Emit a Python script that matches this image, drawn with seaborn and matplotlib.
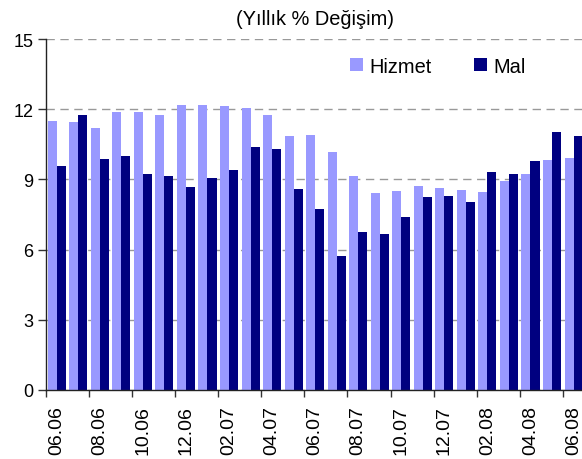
import pandas as pd
import seaborn as sns
import matplotlib.pyplot as plt

plt.rcParams['font.family'] = ['Liberation Sans', 'DejaVu Sans']

months = ['06.06', '07.06', '08.06', '09.06', '10.06', '11.06', '12.06',
          '01.07', '02.07', '03.07', '04.07', '05.07', '06.07', '07.07',
          '08.07', '09.07', '10.07', '11.07', '12.07', '01.08', '02.08',
          '03.08', '04.08', '05.08', '06.08']
hizmet = [11.50, 11.45, 11.20, 11.88, 11.88, 11.75, 12.18, 12.18, 12.14,
          12.05, 11.75, 10.85, 10.90, 10.17, 9.15, 8.42, 8.50, 8.72, 8.63,
          8.55, 8.46, 8.93, 9.23, 9.83, 9.91]
mal = [9.57, 11.75, 9.87, 10.00, 9.23, 9.15, 8.68, 9.06, 9.40, 10.38,
       10.30, 8.59, 7.73, 5.73, 6.75, 6.67, 7.39, 8.25, 8.29, 8.03, 9.32,
       9.23, 9.79, 11.03, 10.85]
series_names = ['Hizmet', 'Mal']
colors = ['#9999ff', '#000080']
y_ticks = [0, 3, 6, 9, 12, 15]

df = pd.DataFrame({
    'month': months * 2,
    'value': hizmet + mal,
    'series': [series_names[0]] * len(months) + [series_names[1]] * len(months),
})

fig = plt.figure(figsize=(5.82, 4.6), dpi=100)
ax = fig.add_axes([0.079, 0.15, 0.925, 0.763])

sns.barplot(data=df, x='month', y='value', hue='series', order=months,
            hue_order=series_names, palette=colors, width=0.84,
            saturation=1, ax=ax)

ax.set_xlim(-0.5, len(months) - 0.5)
ax.set_ylim(0, 15)
ax.set_yticks(y_ticks)
ax.set_axisbelow(True)
ax.yaxis.grid(True, color='#999999', linestyle=(0, (6, 4)), linewidth=1)

# labels every 2nd month, tick marks on the group boundaries
label_pos = list(range(0, len(months), 2))
ax.set_xticks(label_pos)
ax.set_xticklabels([months[i] for i in label_pos], rotation=90, fontsize=14)
ax.tick_params(axis='x', which='major', length=0, pad=11)
ax.set_xticks([p - 0.5 for p in label_pos], minor=True)
ax.tick_params(axis='x', which='minor', length=5, width=1, color='#333333')
ax.tick_params(axis='y', labelsize=13, length=6, width=1, color='#333333', pad=3)

for side in ['top', 'right']:
    ax.spines[side].set_visible(False)
for side in ['left', 'bottom']:
    ax.spines[side].set_color('#222222')
    ax.spines[side].set_linewidth(1)

ax.set_xlabel('')
ax.set_ylabel('')
ax.set_title('(Yıllık % Değişim)', fontsize=14.4, pad=11)

ax.legend(ncol=2, frameon=False, loc='center', bbox_to_anchor=(0.728, 0.923),
          fontsize=14.4, handlelength=0.65, handleheight=0.65,
          handletextpad=0.3, columnspacing=2.15)

fig.savefig('out.png', dpi=100)
